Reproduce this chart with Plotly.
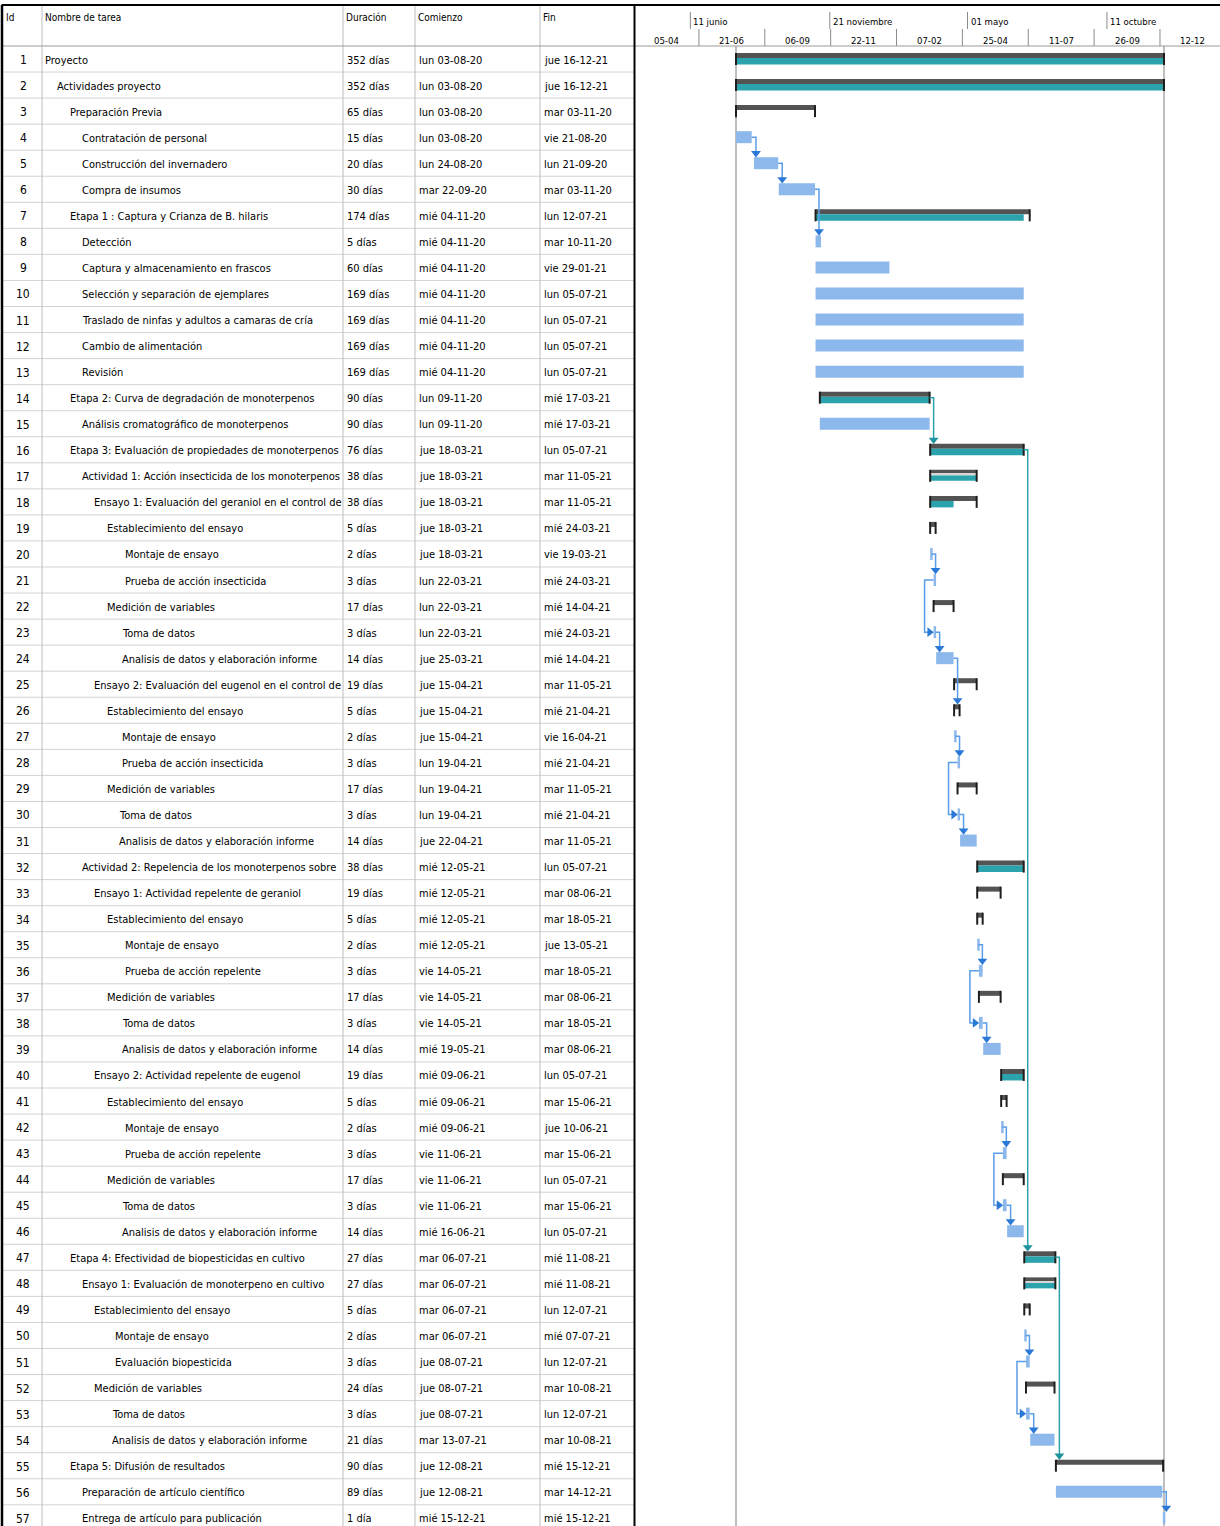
import plotly.graph_objects as go
from datetime import datetime, timedelta

W, H = 1220, 1526

# ---------------- data ----------------
task_ids = list(range(1, 58))
task_names = [
    "Proyecto",
    "Actividades proyecto",
    "Preparación Previa",
    "Contratación de personal",
    "Construcción del invernadero",
    "Compra de insumos",
    "Etapa 1 : Captura y Crianza de B. hilaris",
    "Detección",
    "Captura y almacenamiento en frascos",
    "Selección y separación de ejemplares",
    "Traslado de ninfas y adultos a camaras de cría",
    "Cambio de alimentación",
    "Revisión",
    "Etapa 2: Curva de degradación de monoterpenos",
    "Análisis cromatográfico de monoterpenos",
    "Etapa 3: Evaluación de propiedades de monoterpenos",
    "Actividad 1: Acción insecticida de los monoterpenos",
    "Ensayo 1: Evaluación del geraniol en el control de",
    "Establecimiento del ensayo",
    "Montaje de ensayo",
    "Prueba de acción insecticida",
    "Medición de variables",
    "Toma de datos",
    "Analisis de datos y elaboración informe",
    "Ensayo 2: Evaluación del eugenol en el control de",
    "Establecimiento del ensayo",
    "Montaje de ensayo",
    "Prueba de acción insecticida",
    "Medición de variables",
    "Toma de datos",
    "Analisis de datos y elaboración informe",
    "Actividad 2: Repelencia de los monoterpenos sobre",
    "Ensayo 1: Actividad repelente de geraniol",
    "Establecimiento del ensayo",
    "Montaje de ensayo",
    "Prueba de acción repelente",
    "Medición de variables",
    "Toma de datos",
    "Analisis de datos y elaboración informe",
    "Ensayo 2: Actividad repelente de eugenol",
    "Establecimiento del ensayo",
    "Montaje de ensayo",
    "Prueba de acción repelente",
    "Medición de variables",
    "Toma de datos",
    "Analisis de datos y elaboración informe",
    "Etapa 4: Efectividad de biopesticidas en cultivo",
    "Ensayo 1: Evaluación de monoterpeno en cultivo",
    "Establecimiento del ensayo",
    "Montaje de ensayo",
    "Evaluación biopesticida",
    "Medición de variables",
    "Toma de datos",
    "Analisis de datos y elaboración informe",
    "Etapa 5: Difusión de resultados",
    "Preparación de artículo científico",
    "Entrega de artículo para publicación",
]
duration_days = [352, 352, 65, 15, 20, 30, 174, 5, 60, 169, 169, 169, 169, 90, 90, 76,
                 38, 38, 5, 2, 3, 17, 3, 14, 19, 5, 2, 3, 17, 3, 14, 38, 19, 5, 2, 3,
                 17, 3, 14, 19, 5, 2, 3, 17, 3, 14, 27, 27, 5, 2, 3, 24, 3, 21, 90, 89, 1]
start_dates = [
    "lun 03-08-20", "lun 03-08-20", "lun 03-08-20", "lun 03-08-20", "lun 24-08-20",
    "mar 22-09-20", "mié 04-11-20", "mié 04-11-20", "mié 04-11-20", "mié 04-11-20",
    "mié 04-11-20", "mié 04-11-20", "mié 04-11-20", "lun 09-11-20", "lun 09-11-20",
    "jue 18-03-21", "jue 18-03-21", "jue 18-03-21", "jue 18-03-21", "jue 18-03-21",
    "lun 22-03-21", "lun 22-03-21", "lun 22-03-21", "jue 25-03-21", "jue 15-04-21",
    "jue 15-04-21", "jue 15-04-21", "lun 19-04-21", "lun 19-04-21", "lun 19-04-21",
    "jue 22-04-21", "mié 12-05-21", "mié 12-05-21", "mié 12-05-21", "mié 12-05-21",
    "vie 14-05-21", "vie 14-05-21", "vie 14-05-21", "mié 19-05-21", "mié 09-06-21",
    "mié 09-06-21", "mié 09-06-21", "vie 11-06-21", "vie 11-06-21", "vie 11-06-21",
    "mié 16-06-21", "mar 06-07-21", "mar 06-07-21", "mar 06-07-21", "mar 06-07-21",
    "jue 08-07-21", "jue 08-07-21", "jue 08-07-21", "mar 13-07-21", "jue 12-08-21",
    "jue 12-08-21", "mié 15-12-21",
]
end_dates = [
    "jue 16-12-21", "jue 16-12-21", "mar 03-11-20", "vie 21-08-20", "lun 21-09-20",
    "mar 03-11-20", "lun 12-07-21", "mar 10-11-20", "vie 29-01-21", "lun 05-07-21",
    "lun 05-07-21", "lun 05-07-21", "lun 05-07-21", "mié 17-03-21", "mié 17-03-21",
    "lun 05-07-21", "mar 11-05-21", "mar 11-05-21", "mié 24-03-21", "vie 19-03-21",
    "mié 24-03-21", "mié 14-04-21", "mié 24-03-21", "mié 14-04-21", "mar 11-05-21",
    "mié 21-04-21", "vie 16-04-21", "mié 21-04-21", "mar 11-05-21", "mié 21-04-21",
    "mar 11-05-21", "lun 05-07-21", "mar 08-06-21", "mar 18-05-21", "jue 13-05-21",
    "mar 18-05-21", "mar 08-06-21", "mar 18-05-21", "mar 08-06-21", "lun 05-07-21",
    "mar 15-06-21", "jue 10-06-21", "mar 15-06-21", "lun 05-07-21", "mar 15-06-21",
    "lun 05-07-21", "mié 11-08-21", "mié 11-08-21", "lun 12-07-21", "mié 07-07-21",
    "lun 12-07-21", "mar 10-08-21", "lun 12-07-21", "mar 10-08-21", "mié 15-12-21",
    "mar 14-12-21", "mié 15-12-21",
]
summary_rows = [1, 2, 3, 7, 14, 16, 17, 18, 19, 22, 25, 26, 29, 32, 33, 34, 37, 40, 41,
                44, 47, 48, 49, 52, 55]
# progress (teal) band end per summary task
progress_rows = [1, 2, 7, 14, 16, 17, 18, 32, 40, 47, 48]
progress_end = ["16-12-21", "16-12-21", "05-07-21", "17-03-21", "05-07-21", "11-05-21",
                "14-04-21", "05-07-21", "05-07-21", "11-08-21", "11-08-21"]
split_progress_rows = [17, 48]
# dependencies: (type, predecessor, successor, kind)
links = [
    ("FS", 4, 5, "n"), ("FS", 5, 6, "n"), ("FS", 6, 8, "n"),
    ("FS", 14, 16, "c"), ("FS", 16, 47, "c"), ("FS", 47, 55, "c"), ("FS", 56, 57, "n"),
    ("FS", 20, 21, "n"), ("SS", 21, 23, "n"), ("FS", 23, 24, "n"), ("FS", 24, 26, "n"),
    ("FS", 27, 28, "n"), ("SS", 28, 30, "n"), ("FS", 30, 31, "n"),
    ("FS", 35, 36, "n"), ("SS", 36, 38, "n"), ("FS", 38, 39, "n"),
    ("FS", 42, 43, "n"), ("SS", 43, 45, "n"), ("FS", 45, 46, "n"),
    ("FS", 50, 51, "n"), ("SS", 51, 53, "n"), ("FS", 53, 54, "n"),
]
upper_tier_dates = ["2020-06-11", "2020-11-21", "2021-05-01", "2021-10-11"]
upper_tier_labels = ["11 junio", "21 noviembre", "01 mayo", "11 octubre"]
lower_tier_dates = ["2020-04-05", "2020-06-21", "2020-09-06", "2020-11-22", "2021-02-07",
                    "2021-04-25", "2021-07-11", "2021-09-26", "2021-12-12"]
lower_tier_labels = ["05-04", "21-06", "06-09", "22-11", "07-02", "25-04", "11-07",
                     "26-09", "12-12"]
col_headers = ["Id", "Nombre de tarea", "Duración", "Comienzo", "Fin"]

# ---------------- style ----------------
NAME_X = [43, 55, 68, 80, 80, 80, 68, 80, 80, 80, 80, 80, 80, 68, 80, 68, 80, 92, 105,
          123, 123, 105, 120, 120, 92, 105, 120, 120, 105, 117, 117, 80, 92, 105, 123,
          123, 105, 120, 120, 92, 105, 123, 123, 105, 120, 120, 68, 80, 92, 113, 113,
          92, 110, 110, 68, 80, 80]
FONT = "DejaVu Sans Condensed, Liberation Sans Narrow, sans-serif"
FS_BODY = 11
FS_ID = 12
FS_HEAD = 10
FS_SCALE = 9.5
C_TEXT = "#000000"
C_TASK = "#8DB8EB"
C_DARK = "#535353"
C_TEAL = "#2AA3AC"
C_CAP = "#1E1E1E"
C_LINK = "#5A9DE8"
C_ARROW = "#2B79D6"
C_CLINK = "#2AA3AC"
C_CARROW = "#1E959E"
C_GRID = "#D3D3D3"
C_COL = "#BDBDBD"

RH = 26.05      # row height px
TOP = 46        # header bottom px
GX0 = 635       # gantt left px
TBL_R = 634.5   # table right border px
COL_X = [42, 343, 415, 540]
TXT_X = [None, None, 345, 417, 542]


def parse(s):
    d = s.split()[-1]
    dd, mm, yy = d.split("-")
    return datetime(2000 + int(yy), int(mm), int(dd))


def bstart(r):
    return parse(start_dates[r - 1]) + timedelta(hours=8)


def bend(r):
    return parse(end_dates[r - 1]) + timedelta(hours=17)


T0, T1 = bstart(1), bend(1)
PX0, PX1 = 736, 1164
PPD = (PX1 - PX0) / ((T1 - T0).total_seconds() / 86400)


def px2td(px):
    return timedelta(days=px / PPD)


def ms(td):
    return td.total_seconds() * 1000


def py(dpx):  # pixel offset -> row units
    return dpx / RH


def ppy(p):  # pixel y -> paper
    return 1 - p / H


def ppx(p):
    return p / W


fig = go.Figure()

# ---- task bars ----
task_rows = [r for r in task_ids if r not in summary_rows]
min_w = ms(px2td(2.5))
fig.add_trace(go.Bar(
    orientation="h", y=task_rows, base=[bstart(r) for r in task_rows],
    x=[max(ms(bend(r) - bstart(r)), min_w) for r in task_rows],
    width=py(12), marker=dict(color=C_TASK, line=dict(width=0)), hoverinfo="skip"))

# ---- summary bars ----
fig.add_trace(go.Bar(
    orientation="h", y=summary_rows, base=[bstart(r) for r in summary_rows],
    x=[max(ms(bend(r) - bstart(r)), min_w) for r in summary_rows],
    width=py(5), offset=py(-6), marker=dict(color=C_DARK, line=dict(width=0)),
    hoverinfo="skip"))

p_end = [parse(d) + timedelta(hours=17) for d in progress_end]
full_rows = [(r, e) for r, e in zip(progress_rows, p_end) if r not in split_progress_rows]
split_rows = [(r, e) for r, e in zip(progress_rows, p_end) if r in split_progress_rows]
fig.add_trace(go.Bar(
    orientation="h", y=[r for r, _ in full_rows], base=[bstart(r) for r, _ in full_rows],
    x=[ms(e - bstart(r)) for r, e in full_rows],
    width=py(6.5), offset=py(-1), marker=dict(color=C_TEAL, line=dict(width=0)),
    hoverinfo="skip"))
fig.add_trace(go.Bar(
    orientation="h", y=[r for r, _ in split_rows], base=[bstart(r) for r, _ in split_rows],
    x=[ms(e - bstart(r)) for r, e in split_rows],
    width=py(5.5), offset=py(-0.5), marker=dict(color=C_TEAL, line=dict(width=0)),
    hoverinfo="skip"))
fig.add_trace(go.Bar(
    orientation="h", y=[r for r, _ in split_rows], base=[bstart(r) for r, _ in split_rows],
    x=[ms(bend(r) - bstart(r)) for r, _ in split_rows],
    width=py(1.5), offset=py(-2), marker=dict(color="#D6D6D6", line=dict(width=0)),
    hoverinfo="skip"))

# caps
cx, cy = [], []
for r in summary_rows:
    for t in (bstart(r), bend(r)):
        cx += [t, t, None]
        cy += [r + py(-6), r + py(6), None]
fig.add_trace(go.Scatter(x=cx, y=cy, mode="lines", line=dict(color=C_CAP, width=2),
                         hoverinfo="skip"))

# ---- links ----
paths = {"n": ([], []), "c": ([], [])}
arrows_down = {"n": ([], []), "c": ([], [])}
arrows_right = {"n": ([], []), "c": ([], [])}
for kind, a, b, k in links:
    lx, ly = paths[k]
    if kind == "FS":
        xs = bend(a)
        xv = max(xs + px2td(4), bstart(b) + px2td(2))
        lx += [xs, xv, xv, None]
        ly += [a, a, b + py(-10), None]
        arrows_down[k][0].append(xv)
        arrows_down[k][1].append(b + py(-10))
    else:
        xs = bstart(a)
        xl = xs - px2td(9)
        lx += [xs, xl, xl, bstart(b) - px2td(5), None]
        ly += [a, a, b, b, None]
        arrows_right[k][0].append(bstart(b) - px2td(4))
        arrows_right[k][1].append(b)

for k, lc, ac in (("n", C_LINK, C_ARROW), ("c", C_CLINK, C_CARROW)):
    fig.add_trace(go.Scatter(x=paths[k][0], y=paths[k][1], mode="lines",
                             line=dict(color=lc, width=1.5), hoverinfo="skip"))
    fig.add_trace(go.Scatter(x=arrows_down[k][0], y=arrows_down[k][1], mode="markers",
                             marker=dict(symbol="triangle-down", size=8.5, color=ac,
                                         line=dict(width=0)), hoverinfo="skip"))
    if arrows_right[k][0]:
        fig.add_trace(go.Scatter(x=arrows_right[k][0], y=arrows_right[k][1], mode="markers",
                                 marker=dict(symbol="triangle-right", size=8.5, color=ac,
                                             line=dict(width=0)), hoverinfo="skip"))

shapes = []
annotations = []

# project boundary lines
for t in (T0, T1):
    shapes.append(dict(type="line", xref="x", yref="paper", x0=t, x1=t, y0=0, y1=ppy(TOP),
                       line=dict(color="#A8A8A8", width=1.5), layer="below"))

# timescale tiers
for d, lab in zip(upper_tier_dates, upper_tier_labels):
    t = datetime.fromisoformat(d)
    shapes.append(dict(type="line", xref="x", yref="paper", x0=t, x1=t,
                       y0=ppy(12), y1=ppy(29), line=dict(color="#8A8A8A", width=1)))
    annotations.append(dict(x=t + px2td(1), y=ppy(21.5), xref="x", yref="paper", text=lab,
                            showarrow=False, xanchor="left", yanchor="middle",
                            font=dict(family=FONT, size=FS_SCALE, color=C_TEXT)))
for i, (d, lab) in enumerate(zip(lower_tier_dates, lower_tier_labels)):
    t = datetime.fromisoformat(d)
    if t > T0 - px2td(PX0 - GX0):
        shapes.append(dict(type="line", xref="x", yref="paper", x0=t, x1=t,
                           y0=ppy(29), y1=ppy(TOP), line=dict(color="#8A8A8A", width=1)))
    annotations.append(dict(x=t + timedelta(days=38.5), y=ppy(40), xref="x", yref="paper",
                            text=lab, showarrow=False, xanchor="center", yanchor="middle",
                            font=dict(family=FONT, size=FS_SCALE, color=C_TEXT)))

# table grid
for r in task_ids:
    shapes.append(dict(type="line", xref="paper", yref="y", x0=ppx(3), x1=ppx(TBL_R),
                       y0=r + 0.5, y1=r + 0.5, line=dict(color=C_GRID, width=1)))
for cxp in COL_X:
    shapes.append(dict(type="line", xref="paper", yref="paper", x0=ppx(cxp), x1=ppx(cxp),
                       y0=0, y1=ppy(5), line=dict(color=C_COL, width=1)))
# header bottom
shapes.append(dict(type="line", xref="paper", yref="paper", x0=ppx(3), x1=1,
                   y0=ppy(TOP), y1=ppy(TOP), line=dict(color="#9A9A9A", width=1)))
# borders
shapes.append(dict(type="line", xref="paper", yref="paper", x0=ppx(1.5), x1=1,
                   y0=ppy(5), y1=ppy(5), line=dict(color="#000", width=2)))
shapes.append(dict(type="line", xref="paper", yref="paper", x0=ppx(2), x1=ppx(2),
                   y0=0, y1=ppy(5), line=dict(color="#000", width=2.5)))
shapes.append(dict(type="line", xref="paper", yref="paper", x0=ppx(TBL_R), x1=ppx(TBL_R),
                   y0=0, y1=ppy(5), line=dict(color="#000", width=2)))

# header text
hdr_x = [4, 43, 344, 416, 541]
for hx, ht in zip(hdr_x, col_headers):
    annotations.append(dict(x=ppx(hx), y=ppy(18), xref="paper", yref="paper", text=ht,
                            showarrow=False, xanchor="left", yanchor="middle",
                            font=dict(family=FONT, size=FS_HEAD, color=C_TEXT)))


# table body
def dur_txt(d):
    return f"{d} día" if d == 1 else f"{d} días"


for r, name, dd, s, e, nx in zip(task_ids, task_names, duration_days, start_dates,
                                 end_dates, NAME_X):
    common = dict(xref="paper", yref="y", y=r, showarrow=False, yanchor="middle",
                  yshift=-1, font=dict(family=FONT, size=FS_BODY, color=C_TEXT))
    annotations.append(dict(x=ppx(23), text=str(r), xanchor="center", xref="paper",
                            yref="y", y=r, showarrow=False, yanchor="middle", yshift=-1,
                            font=dict(family=FONT, size=FS_ID, color=C_TEXT)))
    annotations.append(dict(x=ppx(nx), text=name, xanchor="left", **common))
    annotations.append(dict(x=ppx(TXT_X[2]), text=dur_txt(dd), xanchor="left", **common))
    annotations.append(dict(x=ppx(TXT_X[3]), text=s, xanchor="left", **common))
    annotations.append(dict(x=ppx(TXT_X[4]), text=e, xanchor="left", **common))

fig.update_layout(
    width=W, height=H, margin=dict(l=0, r=0, t=0, b=0),
    paper_bgcolor="white", plot_bgcolor="white",
    barmode="overlay", showlegend=False,
    shapes=shapes, annotations=annotations,
    xaxis=dict(type="date", domain=[GX0 / W, 1],
               range=[T0 - px2td(PX0 - GX0), T0 + px2td(W - PX0)],
               showgrid=False, zeroline=False, showticklabels=False, showline=False,
               ticks="", fixedrange=True),
    yaxis=dict(domain=[0, 1 - TOP / H], range=[0.5 + (H - TOP) / RH, 0.5],
               showgrid=False, zeroline=False, showticklabels=False, showline=False,
               ticks="", fixedrange=True),
)

fig.write_html("out.html")
